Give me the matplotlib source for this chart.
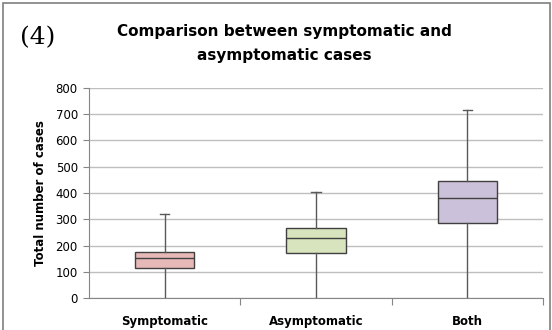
import matplotlib.pyplot as plt
from matplotlib.patches import Rectangle

categories = ['Symptomatic', 'Asymptomatic', 'Both']
whis_lo = [0, 0, 0]
q1 = [114, 174, 288]
median = [152, 231, 380]
q3 = [177, 269, 447]
whis_hi = [322, 405, 715]
box_colors = ['#E6B9B8', '#D7E4BD', '#CCC1DA']
y_ticks = [0, 100, 200, 300, 400, 500, 600, 700, 800]

fig = plt.figure(figsize=(5.52, 3.30), dpi=100)
ax = fig.add_axes([0.161, 0.0955, 0.823, 0.639])

stats = []
for i, name in enumerate(categories):
    stats.append({'label': name, 'whislo': whis_lo[i], 'q1': q1[i], 'med': median[i],
                  'q3': q3[i], 'whishi': whis_hi[i], 'fliers': []})

bp = ax.bxp(stats, positions=[1, 2, 3], widths=0.39, patch_artist=True,
            showfliers=False, zorder=3,
            boxprops=dict(edgecolor='#404040', linewidth=1.0),
            medianprops=dict(color='#404040', linewidth=1.0),
            whiskerprops=dict(color='#595959', linewidth=1.0),
            capprops=dict(color='#595959', linewidth=1.0),
            capwidths=0.06)
for patch, c in zip(bp['boxes'], box_colors):
    patch.set_facecolor(c)
# no visible cap at the bottom
for cap in bp['caps'][0::2]:
    cap.set_visible(False)

ax.set_xlim(0.5, 3.5)
ax.set_ylim(0, 800)
ax.set_yticks(y_ticks)
ax.yaxis.grid(True, color='#BFBFBF', linewidth=1.0, zorder=0)
ax.set_axisbelow(True)
for s in ['top', 'right']:
    ax.spines[s].set_visible(False)
ax.spines['left'].set_color('#868686')
ax.spines['bottom'].set_color('#868686')

ax.set_xticks([1.5, 2.5, 3.5], minor=False)
ax.set_xticklabels([])
ax.set_xticks([1, 2, 3], minor=True)
ax.set_xticklabels(categories, minor=True, fontweight='bold', fontsize=8.5)
ax.tick_params(axis='x', which='minor', length=0, pad=12)
ax.tick_params(axis='x', which='major', length=5, color='#868686', direction='out')
ax.tick_params(axis='y', length=4, color='#868686', labelsize=8.5, pad=4)

ax.set_ylabel('Total number of cases', fontweight='bold', fontsize=8.5, labelpad=6)

fig.text(0.515, 0.905, 'Comparison between symptomatic and', ha='center', va='center',
         fontsize=11, fontweight='bold')
fig.text(0.515, 0.832, 'asymptomatic cases', ha='center', va='center',
         fontsize=11, fontweight='bold')
fig.text(0.068, 0.885, '(4)', ha='center', va='center', fontsize=18, family='DejaVu Serif')

fig.patches.append(Rectangle((0.006, -0.01), 0.99, 1.0, transform=fig.transFigure,
                             fill=False, edgecolor='#7F7F7F', linewidth=1.2))

fig.savefig('out.png', dpi=100)
